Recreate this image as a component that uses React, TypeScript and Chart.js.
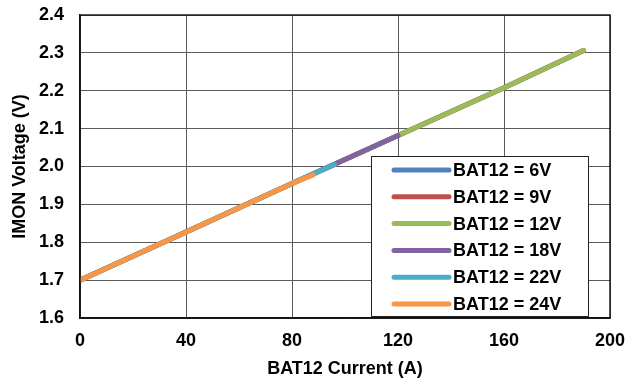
import React, { useEffect, useRef } from "react";
import { Chart, registerables } from "chart.js";

Chart.register(...registerables);

const seriesLabels = ["BAT12 = 6V", "BAT12 = 9V", "BAT12 = 12V", "BAT12 = 18V", "BAT12 = 22V", "BAT12 = 24V"];
const seriesColors = ["#4F81BD", "#C0504D", "#9BBB59", "#8064A2", "#4BACC6", "#F79646"];

const current6V = [0, 40, 80, 120, 160, 190];
const volts6V = [1.7, 1.827, 1.955, 2.082, 2.208, 2.306];
const current9V = [0, 40, 80, 120, 160, 190];
const volts9V = [1.7, 1.827, 1.955, 2.082, 2.208, 2.306];
const current12V = [0, 40, 80, 120, 160, 190];
const volts12V = [1.7, 1.827, 1.955, 2.082, 2.208, 2.306];
const current18V = [0, 40, 80, 120];
const volts18V = [1.7, 1.827, 1.955, 2.082];
const current22V = [0, 40, 80, 96];
const volts22V = [1.7, 1.827, 1.955, 2.005];
const current24V = [0, 40, 80, 88];
const volts24V = [1.7, 1.827, 1.955, 1.978];

const xTicks = [0, 40, 80, 120, 160, 200];
const yTicks = [1.6, 1.7, 1.8, 1.9, 2.0, 2.1, 2.2, 2.3, 2.4];

const seriesCurrents = [current6V, current9V, current12V, current18V, current22V, current24V];
const seriesVolts = [volts6V, volts9V, volts12V, volts18V, volts22V, volts24V];

const FONT = '"Liberation Sans", Arial, sans-serif';

const boxLegendPlugin = {
  id: "boxLegend",
  afterDraw(chart: any) {
    const ctx = chart.ctx;
    const area = chart.chartArea;
    ctx.save();
    ctx.strokeStyle = "#111";
    ctx.lineWidth = 1.4;
    ctx.strokeRect(area.left, area.top, area.right - area.left, area.bottom - area.top);

    const boxRight = area.right - 21;
    const boxLeft = boxRight - 218;
    const boxBottom = area.bottom - 1;
    const boxTop = boxBottom - 161;
    ctx.fillStyle = "#fff";
    ctx.fillRect(boxLeft, boxTop, boxRight - boxLeft, boxBottom - boxTop);
    ctx.strokeStyle = "#222";
    ctx.lineWidth = 1;
    ctx.strokeRect(boxLeft + 0.5, boxTop + 0.5, boxRight - boxLeft - 1, boxBottom - boxTop - 1);

    const ds = chart.data.datasets;
    const rowH = 26.8;
    ctx.font = `bold 18px ${FONT}`;
    ctx.textBaseline = "middle";
    ctx.textAlign = "left";
    for (let i = 0; i < ds.length; i++) {
      const y = boxTop + 14 + i * rowH;
      ctx.strokeStyle = ds[i].borderColor;
      ctx.lineWidth = 5;
      ctx.lineCap = "round";
      ctx.beginPath();
      ctx.moveTo(boxLeft + 23, y);
      ctx.lineTo(boxLeft + 78, y);
      ctx.stroke();
      ctx.fillStyle = "#000";
      ctx.fillText(ds[i].label, boxLeft + 82, y + 1);
    }
    ctx.restore();
  },
};

export default function App() {
  const ref = useRef<HTMLCanvasElement | null>(null);

  useEffect(() => {
    document.body.style.margin = "0";
    const canvas = ref.current;
    if (!canvas) return;
    const datasets = seriesLabels.map((label, i) => ({
      label,
      data: seriesCurrents[i].map((c, j) => ({ x: c, y: seriesVolts[i][j] })),
      borderColor: seriesColors[i],
      backgroundColor: seriesColors[i],
      borderWidth: 5,
      borderCapStyle: "round" as const,
      borderJoinStyle: "round" as const,
      pointRadius: 0,
      fill: false,
      tension: 0,
      order: seriesLabels.length - 1 - i,
    }));

    const chart = new Chart(canvas, {
      type: "line",
      data: { datasets },
      plugins: [boxLegendPlugin],
      options: {
        animation: false,
        responsive: true,
        maintainAspectRatio: false,
        layout: { padding: { left: 0, right: 25, top: 15, bottom: 0 } },
        plugins: { legend: { display: false }, tooltip: { enabled: false } },
        scales: {
          x: {
            type: "linear",
            min: 0,
            max: 200,
            afterBuildTicks: (s: any) => {
              s.ticks = xTicks.map((v) => ({ value: v }));
            },
            afterFit: (s: any) => {
              s.height = 63;
              s.paddingLeft = 0;
              s.paddingRight = 0;
            },
            ticks: {
              color: "#000",
              font: { family: FONT, size: 18, weight: "bold" },
              padding: 12,
              maxRotation: 0,
            },
            grid: { color: "#5a5a5a", lineWidth: 1, drawTicks: false },
            border: { color: "#111", width: 1.4 },
            title: {
              display: true,
              text: "BAT12 Current (A)",
              color: "#000",
              font: { family: FONT, size: 18, weight: "bold" },
              padding: { top: 0, bottom: 1.2 },
            },
          },
          y: {
            type: "linear",
            min: 1.6,
            max: 2.4,
            afterBuildTicks: (s: any) => {
              s.ticks = yTicks.map((v) => ({ value: v }));
            },
            afterFit: (s: any) => {
              s.width = 80;
              s.paddingTop = 0;
              s.paddingBottom = 0;
            },
            ticks: {
              color: "#000",
              font: { family: FONT, size: 18, weight: "bold" },
              padding: 16,
              callback: (v: any) => Number(v).toFixed(1),
            },
            grid: { color: "#5a5a5a", lineWidth: 1, drawTicks: false },
            border: { color: "#111", width: 1.4 },
            title: {
              display: true,
              text: "IMON Voltage (V)",
              color: "#000",
              font: { family: FONT, size: 18, weight: "bold" },
              padding: { top: 9.2, bottom: 0 },
            },
          },
        },
      },
    });
    return () => chart.destroy();
  }, []);

  return (
    <div style={{ position: "relative", width: "635px", height: "381px" }}>
      <canvas ref={ref} />
    </div>
  );
}
